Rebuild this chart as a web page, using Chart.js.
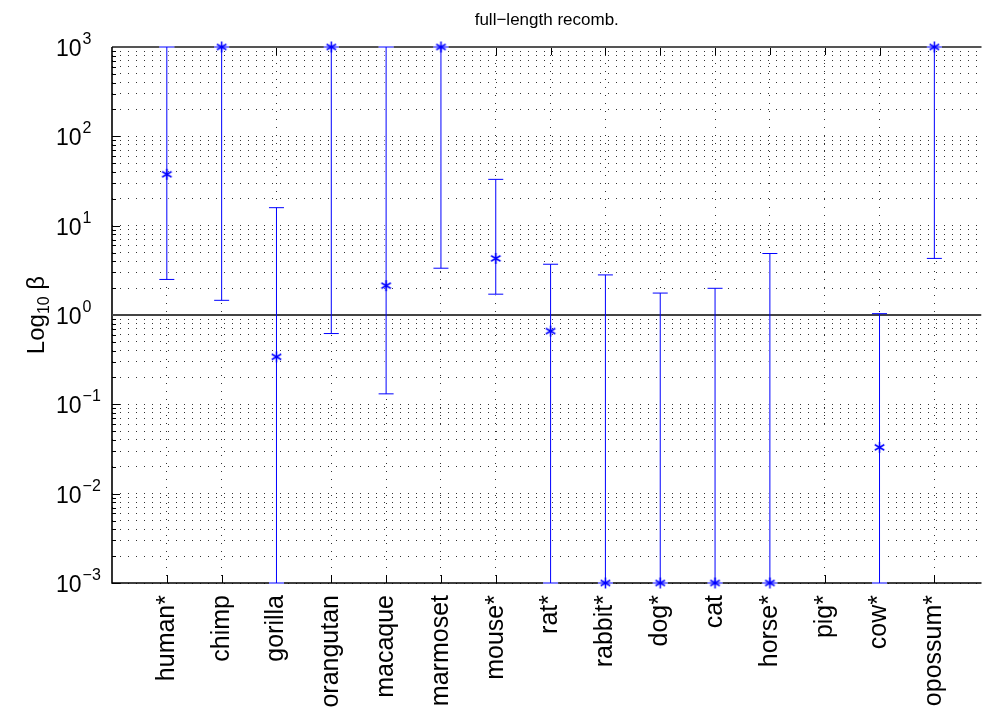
<!DOCTYPE html>
<html>
<head>
<meta charset="utf-8">
<script src="https://cdn.jsdelivr.net/npm/chart.js@4"></script>
<style>
  html, body { margin: 0; padding: 0; background: #fff; }
</style>
</head>
<body>
<canvas id="grafico" width="992" height="715"></canvas>
<script>
// valores (beta e intervalo)
const species = ['human*', 'chimp', 'gorilla', 'orangutan', 'macaque', 'marmoset', 'mouse*', 'rat*', 'rabbit*', 'dog*', 'cat', 'horse*', 'pig*', 'cow*', 'opossum*']
const beta = [37.6, 1000, 0.34, 1000, 2.13, 1000, 4.3, 0.66, 0.001, 0.001, 0.001, 0.001, null, 0.033, 1000]
const betaLow = [2.5, 1.46, 0.001, 0.62, 0.131, 3.34, 1.71, 0.001, 0.001, 0.001, 0.001, 0.001, null, 0.001, 4.3]
const betaHigh = [1000, 1000, 15.9, 1000, 1000, 1000, 33, 3.7, 2.81, 1.76, 1.99, 4.88, null, 1.035, 1000]
const yDecades = [-3, -2, -1, 0, 1, 2, 3]
const refLine = 1
const xMax = 15.86

const FONT = '"Liberation Sans", Arial, Helvetica, sans-serif'
const blue = '#0000ff'

// marcador asterisco estilo matlab
function asterisk(size) {
    const c = document.createElement('canvas')
    c.width = size
    c.height = size
    const g = c.getContext('2d')
    const m = size / 2, r = size / 2 - 1
    g.strokeStyle = blue
    g.lineWidth = 1.5
    g.beginPath()
    for (let a = 0; a < 3; a++) {
        const t = Math.PI / 2 + a * Math.PI / 3
        g.moveTo(m + r * Math.cos(t), m + r * Math.sin(t))
        g.lineTo(m - r * Math.cos(t), m - r * Math.sin(t))
    }
    g.stroke()
    return c
}

function barSet(i, color, width, order) {
    return {
        data: beta[i] === null ? [] : [{ x: i + 1, y: betaLow[i] }, { x: i + 1, y: betaHigh[i] }],
        showLine: true,
        borderColor: color,
        borderWidth: width,
        pointStyle: 'line',
        pointRadius: 7.5,
        pointBorderColor: color,
        pointBorderWidth: width,
        clip: false,
        order: order
    }
}

// barras azuis + fundo branco para esconder a grade pontilhada por baixo
const barSets = species.map((s, i) => barSet(i, blue, 1, 1))
const haloSets = species.map((s, i) => barSet(i, '#fff', 3, 3))

const markerSet = {
    data: species.map((s, i) => ({ x: i + 1, y: beta[i] })).filter(p => p.y !== null),
    pointStyle: asterisk(13),
    pointRadius: 6.5,
    clip: false,
    order: 0
}

const refSet = {
    data: [{ x: 0, y: refLine }, { x: xMax, y: refLine }],
    showLine: true,
    borderColor: '#444',
    borderWidth: 2,
    pointRadius: 0,
    order: 2
}

const decoracao = {
    id: 'decoracao',
    beforeDatasetsDraw(chart) {
        const { ctx, chartArea: a, scales: { x, y } } = chart
        ctx.save()
        // ticks para dentro
        ctx.strokeStyle = '#000'
        ctx.lineWidth = 1
        ctx.beginPath()
        species.forEach((s, i) => {
            const px = Math.round(x.getPixelForValue(i + 1)) + 0.5
            ctx.moveTo(px, a.bottom); ctx.lineTo(px, a.bottom - 8)
            ctx.moveTo(px, a.top); ctx.lineTo(px, a.top + 8)
        })
        y.ticks.forEach(t => {
            const py = Math.round(y.getPixelForValue(t.value)) + 0.5
            const major = Math.abs(Math.log10(t.value) - Math.round(Math.log10(t.value))) < 1e-9
            ctx.moveTo(a.left, py); ctx.lineTo(a.left + (major ? 8 : 4), py)
        })
        ctx.stroke()
        // moldura
        ctx.strokeStyle = '#555'
        ctx.lineWidth = 2
        ctx.beginPath()
        ctx.moveTo(a.left, a.top); ctx.lineTo(a.right, a.top)
        ctx.stroke()
        ctx.strokeStyle = '#000'
        ctx.lineWidth = 1.6
        ctx.beginPath()
        ctx.moveTo(a.left, a.top); ctx.lineTo(a.left, a.bottom); ctx.lineTo(a.right, a.bottom)
        ctx.stroke()
        ctx.restore()
    },
    afterDraw(chart) {
        const { ctx, chartArea: a, scales: { y } } = chart
        ctx.save()
        ctx.fillStyle = '#000'
        ctx.textAlign = 'left'
        ctx.textBaseline = 'alphabetic'
        // rotulos 10^k
        yDecades.forEach(k => {
            const py = y.getPixelForValue(Math.pow(10, k))
            ctx.font = '23px ' + FONT
            ctx.fillText('10', 56, py + 9)
            const w = ctx.measureText('10').width
            ctx.font = '16px ' + FONT
            ctx.fillText(k < 0 ? '\u2212' + (-k) : String(k), 56 + w + 1, py - 3)
        })
        // titulo
        ctx.font = '17px ' + FONT
        ctx.textAlign = 'center'
        ctx.fillText('full\u2212length recomb.', (a.left + a.right) / 2, 25)
        // titulo eixo y
        ctx.translate(36, (a.top + a.bottom) / 2)
        ctx.rotate(-Math.PI / 2)
        ctx.textAlign = 'left'
        ctx.font = '24px ' + FONT
        const w1 = ctx.measureText('Log').width
        const w3 = ctx.measureText(' \u03b2').width
        ctx.font = '16px ' + FONT
        const w2 = ctx.measureText('10').width
        let cx = -(w1 + w2 + w3) / 2
        ctx.font = '24px ' + FONT
        ctx.fillText('Log', cx, 8)
        cx += w1
        ctx.font = '16px ' + FONT
        ctx.fillText('10', cx, 13)
        cx += w2
        ctx.font = '24px ' + FONT
        ctx.fillText(' \u03b2', cx, 8)
        ctx.restore()
    }
}

Chart.defaults.color = '#000'
Chart.defaults.font.family = FONT

const ctx = document.getElementById('grafico').getContext('2d')
const chartGraph = new Chart(ctx, {
    type: 'scatter',
    data: {
        datasets: [markerSet, ...barSets, refSet, ...haloSets]
    },
    options: {
        responsive: false,
        animation: false,
        devicePixelRatio: 1,
        layout: { padding: { top: 47, right: 0, bottom: 0, left: 0 } },
        plugins: {
            legend: { display: false },
            tooltip: { enabled: false },
            title: { display: false }
        },
        scales: {
            x: {
                type: 'linear',
                min: 0,
                max: xMax,
                afterBuildTicks: sc => { sc.ticks = species.map((s, i) => ({ value: i + 1 })) },
                afterFit: sc => { sc.height = 132 },
                ticks: {
                    autoSkip: false,
                    minRotation: 90,
                    maxRotation: 90,
                    padding: 12,
                    font: { size: 25 },
                    color: '#000',
                    callback: (v, i) => species[i]
                },
                grid: { color: '#333', lineWidth: 1, drawTicks: false },
                border: { display: false, dash: [1, 7] }
            },
            y: {
                type: 'logarithmic',
                min: 0.001,
                max: 1000,
                afterBuildTicks: sc => {
                    const t = []
                    yDecades.forEach(k => {
                        for (let m = 1; m <= 9; m++) {
                            const v = parseFloat((m * Math.pow(10, k)).toPrecision(3))
                            if (v <= 1000) t.push({ value: v })
                        }
                    })
                    sc.ticks = t
                },
                afterFit: sc => { sc.width = 112 },
                ticks: { display: false },
                grid: { color: '#333', lineWidth: 1, drawTicks: false },
                border: { display: false, dash: [1, 7] }
            }
        }
    },
    plugins: [decoracao]
})
</script>
</body>
</html>
